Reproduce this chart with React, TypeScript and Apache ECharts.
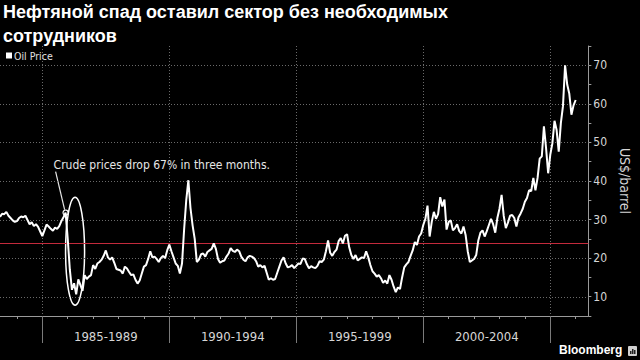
import React, { useEffect, useRef } from 'react';
import * as echarts from 'echarts';

// Monthly WTI crude price (US$/barrel)
const p1983 = [30.7, 31.5, 31.4, 32.0, 31.0, 30.4, 29.8, 29.4]; // May–Dec
const p1984 = [29.6, 30.4, 30.8, 30.6, 31.0, 29.9, 28.8, 29.3, 28.3, 28.8, 28.1, 26.9];
const p1985 = [25.7, 27.2, 28.7, 28.2, 27.6, 27.1, 27.9, 27.6, 28.3, 29.6, 30.6, 31.8];
const p1986 = [25.0, 17.0, 11.8, 13.5, 10.6, 14.5, 13.0, 11.5, 15.6, 14.6, 15.2, 15.6];
const p1987 = [18.2, 17.2, 18.6, 19.0, 19.6, 20.6, 22.0, 20.2, 19.6, 20.2, 18.8, 17.2];
const p1988 = [17.0, 16.8, 16.0, 17.8, 17.3, 16.4, 15.6, 15.8, 14.4, 13.4, 14.2, 16.0];
const p1989 = [17.8, 18.2, 19.8, 21.8, 20.2, 20.4, 19.8, 19.0, 20.0, 20.6, 20.0, 22.0];
const p1990 = [23.5, 21.8, 20.2, 18.6, 18.0, 16.0, 18.6, 27.5, 35.0, 40.2, 33.0, 28.5];
const p1991 = [25.0, 19.0, 19.6, 21.0, 21.2, 20.4, 21.6, 22.0, 22.4, 23.8, 22.4, 19.8];
const p1992 = [18.8, 19.2, 19.4, 20.4, 21.2, 22.6, 21.9, 21.6, 22.2, 21.8, 20.4, 19.6];
const p1993 = [19.2, 20.2, 20.6, 20.4, 20.0, 19.2, 17.8, 18.2, 17.6, 18.0, 16.2, 14.4];
const p1994 = [14.8, 14.4, 14.6, 16.2, 17.8, 19.4, 20.2, 18.6, 17.6, 17.8, 18.2, 17.4];
const p1995 = [18.0, 18.6, 18.5, 19.9, 19.8, 18.4, 17.4, 17.9, 17.6, 17.4, 18.0, 19.2];
const p1996 = [19.0, 19.6, 21.8, 24.6, 21.4, 20.6, 21.6, 22.2, 24.4, 25.2, 23.8, 25.8];
const p1997 = [26.2, 22.8, 20.8, 19.8, 20.8, 19.4, 19.8, 20.2, 20.0, 21.8, 20.2, 18.2];
const p1998 = [16.6, 16.0, 15.2, 15.6, 14.8, 13.6, 14.2, 13.4, 15.6, 14.4, 12.6, 11.2];
const p1999 = [12.4, 12.0, 15.0, 17.6, 18.4, 19.0, 20.6, 22.0, 24.2, 23.4, 25.6, 26.4];
const p2000 = [28.6, 30.2, 33.6, 25.6, 29.4, 32.0, 30.2, 31.4, 35.8, 33.4, 35.2, 27.4];
const p2001 = [29.4, 29.8, 27.2, 27.8, 28.8, 27.0, 26.4, 28.2, 26.0, 21.8, 19.0, 19.4];
const p2002 = [19.8, 20.8, 24.6, 26.6, 27.2, 25.6, 27.0, 28.6, 30.2, 28.8, 26.6, 30.4];
const p2003 = [32.8, 36.4, 31.0, 27.8, 29.2, 31.0, 31.2, 30.4, 28.2, 30.6, 31.6, 32.8];
const p2004 = [34.6, 35.6, 37.6, 37.4, 40.8, 37.6, 40.8, 45.8, 46.4, 54.2, 48.6, 42.0];
const p2005 = [46.8, 49.8, 55.6, 53.2, 47.6, 55.0, 59.4, 70.0, 65.0, 62.6, 57.2, 59.6];
const p2006 = [61.0];

const prices = [
  ...p1983, ...p1984, ...p1985, ...p1986, ...p1987, ...p1988, ...p1989, ...p1990,
  ...p1991, ...p1992, ...p1993, ...p1994, ...p1995, ...p1996, ...p1997, ...p1998,
  ...p1999, ...p2000, ...p2001, ...p2002, ...p2003, ...p2004, ...p2005, ...p2006,
];

// Axis range: May 1983 – Jul 2006
const startYear = 1983;
const startMonth = 5;
const endYear = 2006;
const endMonth = 7;

const periodLabels = ['1985-1989', '1990-1994', '1995-1999', '2000-2004'];
const periodLabelMonths = ['1987-07', '1992-07', '1997-07', '2002-07'];
const dividerMonths = ['1985-01', '1990-01', '1995-01', '2000-01', '2005-01'];
const gridValues = [10, 20, 30, 40, 50, 60, 70];
const referenceLevel = 23.8;

const titleText = 'Нефтяной спад оставил сектор без необходимых\nсотрудников';
const noteText = 'Crude prices drop 67% in three months.';
const noteAnchorMonth = '1985-12';
const noteEllipseMonth = '1986-04';

const months: string[] = [];
{
  let y = startYear;
  let m = startMonth;
  while (y < endYear || (y === endYear && m <= endMonth)) {
    months.push(`${y}-${String(m).padStart(2, '0')}`);
    m++;
    if (m > 12) { m = 1; y++; }
  }
}
const seriesData = months.map((_, i) => (i < prices.length ? prices[i] : null));

const NARROW = "'Liberation Sans Narrow', 'Arial Narrow', 'DejaVu Sans Condensed', sans-serif";
const SANS = "'Liberation Sans', Arial, sans-serif";
const GRID_COLOR = '#6a6a6a';
const RED = '#c42a3c';

export default function App() {
  const ref = useRef<HTMLDivElement>(null);
  useEffect(() => {
    if (!ref.current) return;
    const chart = echarts.init(ref.current, undefined, { renderer: 'svg' });
    const labelFor = (v: string) => {
      const k = periodLabelMonths.indexOf(v);
      return k >= 0 ? periodLabels[k] : '';
    };
    chart.setOption({
      animation: false,
      backgroundColor: '#000000',
      title: {
        text: titleText,
        left: 3,
        top: 0,
        padding: 0,
        textStyle: { color: '#ffffff', fontSize: 18, fontWeight: 'bold', lineHeight: 24, fontFamily: SANS },
      },
      legend: {
        data: ['Oil Price'],
        left: 6,
        top: 50,
        padding: 0,
        icon: 'rect',
        itemWidth: 6,
        itemHeight: 6,
        textStyle: { color: '#e0e0e0', fontSize: 10.5, fontFamily: NARROW, padding: [0, 0, 0, -3] },
      },
      grid: { left: 0, right: 36, top: 46, bottom: 44, containLabel: false },
      xAxis: [
        {
          type: 'category',
          data: months,
          boundaryGap: false,
          position: 'bottom',
          axisLine: { onZero: false, lineStyle: { color: '#9a9a9a', width: 1 } },
          axisTick: {
            interval: (_i: number, v: string) => v.endsWith('-01'),
            length: 3,
            lineStyle: { color: '#9a9a9a' },
          },
          axisLabel: {
            interval: (_i: number, v: string) => periodLabelMonths.includes(v),
            formatter: (v: string) => labelFor(v),
            color: '#d6d6d6',
            fontSize: 13,
            fontFamily: NARROW,
            margin: 14,
          },
          splitLine: {
            show: true,
            interval: (_i: number, v: string) => dividerMonths.includes(v),
            lineStyle: { type: [1, 2], color: GRID_COLOR, width: 1 },
          },
        },
        {
          type: 'category',
          data: months,
          boundaryGap: false,
          position: 'bottom',
          axisLine: { show: false, onZero: false },
          axisTick: {
            interval: (_i: number, v: string) => dividerMonths.includes(v),
            length: 27,
            lineStyle: { color: '#7a7a7a' },
          },
          axisLabel: { show: false },
          splitLine: { show: false },
        },
      ],
      yAxis: {
        type: 'value',
        position: 'right',
        min: 5,
        max: 75,
        interval: 5,
        axisLine: { show: true, lineStyle: { color: '#9a9a9a' } },
        axisTick: { show: true, length: 3, lineStyle: { color: '#9a9a9a' } },
        axisLabel: {
          formatter: (v: number) => (v % 10 === 0 ? String(v) : ''),
          color: '#d6d6d6',
          fontSize: 12,
          fontFamily: NARROW,
          margin: 5,
        },
        splitLine: { show: false },
        name: 'US$/barrel',
        nameLocation: 'middle',
        nameRotate: -90,
        nameGap: 28,
        nameTextStyle: { color: '#d6d6d6', fontSize: 14, fontFamily: NARROW },
      },
      series: [
        {
          type: 'line',
          name: 'Oil Price',
          data: seriesData,
          showSymbol: false,
          symbol: 'none',
          z: 3,
          lineStyle: { color: '#ffffff', width: 2 },
          itemStyle: { color: '#ffffff' },
        },
      ],
    });

    const toPx = (idx: number, v: number) =>
      chart.convertToPixel({ xAxisIndex: 0, yAxisIndex: 0 }, [idx, v]) as number[];
    const xLeft = toPx(0, 10)[0];
    const xRight = toPx(months.length - 1, 10)[0];
    const hLine = (v: number, stroke: string, dash: number[] | null, width: number) => {
      const y = Math.round(toPx(0, v)[1]) + 0.5;
      return {
        type: 'line',
        silent: true,
        z: 1,
        shape: { x1: xLeft, y1: y, x2: xRight, y2: y },
        style: { stroke, lineWidth: width, lineDash: dash || undefined },
      };
    };

    const anchorIdx = months.indexOf(noteAnchorMonth);
    const anchor = toPx(anchorIdx, prices[anchorIdx]);
    const ellIdx = months.indexOf(noteEllipseMonth);
    const ell = toPx(ellIdx, 21.8);

    chart.setOption({
      graphic: [
        ...gridValues.map((v) => hLine(v, GRID_COLOR, [1, 2], 1)),
        hLine(referenceLevel, RED, null, 1.2),
        {
          type: 'text',
          left: anchor[0] - 12,
          top: anchor[1] - 54,
          style: { text: noteText, fill: '#e6e6e6', font: `12px ${NARROW}` },
        },
        {
          type: 'line',
          shape: { x1: anchor[0] - 1, y1: anchor[1] - 3, x2: anchor[0] - 10, y2: anchor[1] - 41 },
          style: { stroke: '#e6e6e6', lineWidth: 1.2 },
        },
        {
          type: 'circle',
          shape: { cx: anchor[0], cy: anchor[1], r: 2.6 },
          style: { stroke: '#ffffff', fill: 'none', lineWidth: 1.2 },
        },
        {
          type: 'ellipse',
          shape: { cx: ell[0] + 1, cy: ell[1], rx: 9.5, ry: 54 },
          style: { stroke: '#ffffff', fill: 'none', lineWidth: 1.5 },
        },
        {
          type: 'text',
          left: 559,
          top: 344,
          style: { text: 'Bloomberg', fill: '#ffffff', font: `bold 12px ${SANS}` },
        },
        {
          type: 'group',
          left: 628,
          top: 346,
          children: [
            { type: 'rect', shape: { x: 0, y: 0, width: 9, height: 10, r: 1 }, style: { fill: '#d0d0d0' } },
            { type: 'rect', shape: { x: 2, y: 5, width: 1.5, height: 3 }, style: { fill: '#222' } },
            { type: 'rect', shape: { x: 4, y: 3, width: 1.5, height: 5 }, style: { fill: '#222' } },
            { type: 'rect', shape: { x: 6, y: 4, width: 1.5, height: 4 }, style: { fill: '#222' } },
          ],
        },
      ],
    });

    return () => chart.dispose();
  }, []);
  return (
    <div
      ref={ref}
      style={{ position: 'fixed', left: 0, top: 0, width: 640, height: 360, background: '#000' }}
    />
  );
}
